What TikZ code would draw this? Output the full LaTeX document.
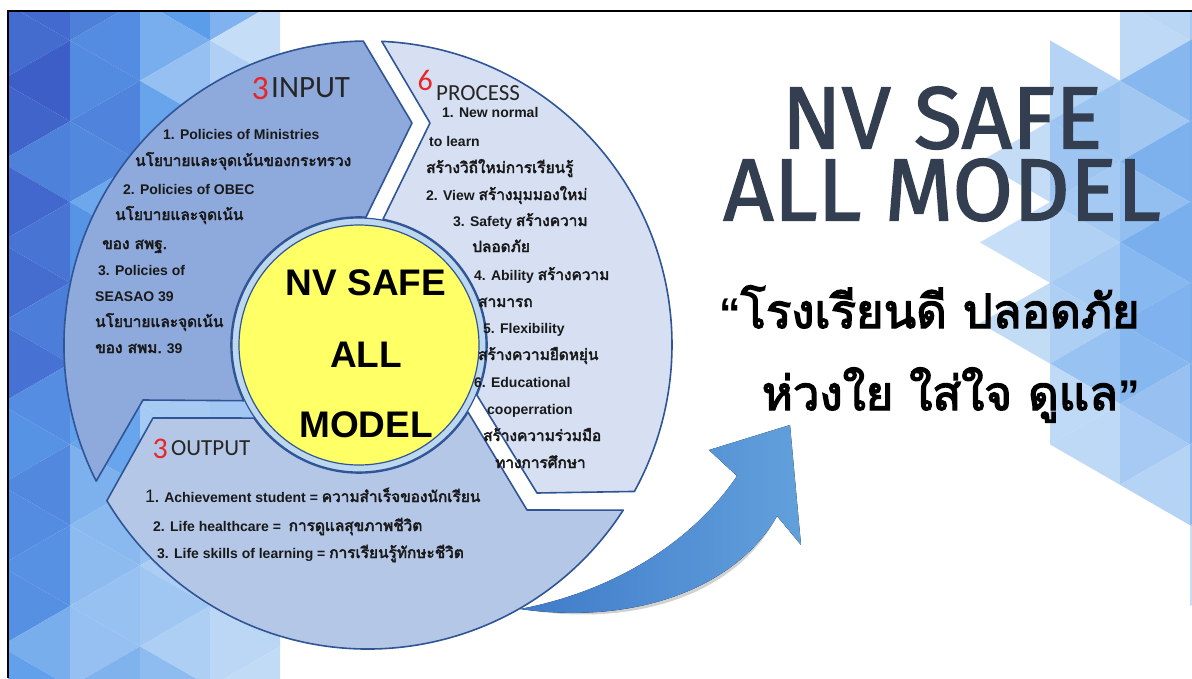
\documentclass[tikz,border=0pt]{standalone}
\usepackage{fontspec}
\setmainfont{Liberation Sans}
\newfontfamily\thaifont[Script=Thai,Scale=1.1,BoldFont=Loma,BoldFeatures={FakeBold=3}]{Loma}
\newfontfamily\headfont{Carlito}
\newfontfamily\titlefont[FakeBold=1.6]{Fira Sans}
\usetikzlibrary{calc}

\definecolor{segline}{HTML}{2F5597}
\definecolor{inputfill}{HTML}{8EA9DB}
\definecolor{processfill}{HTML}{D6E0F2}
\definecolor{outputfill}{HTML}{B4C7E7}
\definecolor{ringfill}{HTML}{BDD7EE}
\definecolor{coreyellow}{HTML}{FFFF66}
\definecolor{numred}{HTML}{E8262A}
\definecolor{titlegray}{HTML}{333F50}
\definecolor{bgdeep}{HTML}{3A58C4}
\definecolor{bgmid}{HTML}{5C9DEA}
\definecolor{bgpale}{HTML}{D2E5F8}
\definecolor{arrowdark}{HTML}{3F7BC9}
\definecolor{arrowlight}{HTML}{62A0DC}

\newcommand\thtxt[1]{{\thaifont #1}}

% one triangle of the background, coloured after where it lies
\newcommand\bgtri[6]{%
  \pgfmathsetmacro\cx{(#1+#3+#5)/3}%
  \pgfmathsetmacro\cy{(#2+#4+#6)/3}%
  \pgfmathsetmacro\dl{300-0.05*\cy-\cx}%
  \pgfmathsetmacro\dr{\cx-1010-(0.045*(\cy-250))^2}%
  \ifdim\dl pt>0pt
    \pgfmathsetmacro\p{max(5,min(98,\dl/3.2*(1.15-0.5*\cy/678)+24*rnd-12))}%
    \ifdim\p pt>50pt
      \pgfmathsetmacro\q{2*\p-100}%
      \fill[bgdeep!\q!bgmid] (#1,#2)--(#3,#4)--(#5,#6)--cycle;
    \else
      \pgfmathsetmacro\q{2*\p}%
      \fill[bgmid!\q!bgpale] (#1,#2)--(#3,#4)--(#5,#6)--cycle;
    \fi
  \fi
  \ifdim\dr pt>0pt
    \pgfmathsetmacro\p{max(5,min(75,8+\dr*0.45+30*rnd-15))}%
    \fill[bgmid!\p!bgpale] (#1,#2)--(#3,#4)--(#5,#6)--cycle;
  \fi
}

\tikzset{
  segment/.style={draw=segline, line width=1.6pt, line join=round},
  segtext/.style={anchor=base west, inner sep=0pt, text=black!90,
    font=\bfseries\fontsize{14}{14}\selectfont},
  coretext/.style={anchor=base, inner sep=0pt, font=\bfseries\fontsize{37}{37}\selectfont},
  headnum/.style={anchor=base east, inner sep=0pt, text=numred},
  headword/.style={anchor=base west, inner sep=0pt, text=black!85},
  titletext/.style={inner sep=0pt, text=titlegray, align=center,
    font=\titlefont\fontsize{88}{72}\selectfont},
  mottotext/.style={anchor=base east, inner sep=0pt,
    font=\thaifont\bfseries\fontsize{43}{43}\selectfont},
  arrowbody/.style={left color=arrowdark, right color=arrowlight},
}

\begin{document}
\begin{tikzpicture}[x=1pt,y=-1pt]
\useasboundingbox (0,0) rectangle (1192,678);
\fill[white] (0,0) rectangle (1192,678);

% background triangles
\begin{scope}
\clip (8,11) rectangle (1192,678);
\pgfmathsetseed{42}
\foreach \i in {0,...,17}{
  \foreach \j in {-1,...,8}{
    \pgfmathsetmacro\xa{\i*70}
    \pgfmathsetmacro\xb{\i*70+70}
    \pgfmathsetmacro\ya{\j*80.8+mod(\i,2)*40.4}
    \pgfmathsetmacro\ym{\ya+40.4}
    \pgfmathsetmacro\yb{\ya+80.8}
    \pgfmathsetmacro\yc{\ya+121.2}
    \bgtri{\xa}{\ya}{\xb}{\ym}{\xa}{\yb}
    \bgtri{\xb}{\ym}{\xa}{\yb}{\xb}{\yc}
  }
}
\end{scope}

\coordinate (O) at (368,345); \coordinate (C) at (359,345);

% the three segments
\draw[segment, fill=inputfill] ($(O)+(153.4:304)$) arc[start angle=153.4, end angle=269.1, radius=304]
  -- (412,123) -- ($(C)+(273.1:128)$) arc[start angle=273.1, end angle=154.2, radius=128] -- (143,400) -- cycle;
\draw[segment, fill=processfill] ($(O)+(272.6:304)$) arc[start angle=272.6, end angle=388.8, radius=304]
  -- (537,493) -- ($(C)+(23:128)$) arc[start angle=23, end angle=-79.2, radius=128] -- (430,123) -- cycle;
\draw[segment, fill=outputfill] ($(O)+(32.9:304)$) arc[start angle=32.9, end angle=149.2, radius=304]
  -- (153,418) -- ($(C)+(145.2:128)$) arc[start angle=145.2, end angle=31.6, radius=128] -- (527,510) -- cycle;

% centre
\node[circle, draw=segline, line width=1.2pt, fill=ringfill, minimum size=254pt, inner sep=0pt] (ring) at (C) {};
\node[circle, draw=segline, line width=1.2pt, fill=coreyellow, minimum size=240pt, inner sep=0pt] (core) at (C) {};
\foreach \txt/\y [count=\i] in {NV SAFE/295, ALL/367, MODEL/437}
  \node[coretext] (core\i) at (366,\y) {\txt};

% headings
\node[headnum, font=\headfont\fontsize{34}{34}\selectfont] (in-num) at (269,99) {3};
\node[headword, font=\headfont\fontsize{31}{31}\selectfont] (in-head) at (271,97) {INPUT};
\node[headnum, font=\headfont\fontsize{30}{30}\selectfont] (pr-num) at (433,90) {6};
\node[headword, font=\headfont\fontsize{23}{23}\selectfont] (pr-head) at (436,100) {PROCESS};
\node[headnum, font=\headfont\fontsize{30}{30}\selectfont] (out-num) at (168,458) {3};
\node[headword, font=\headfont\fontsize{23}{23}\selectfont] (out-head) at (171,455) {OUTPUT};

% input items
\foreach \x/\y/\txt [count=\i] in {
  163/139/{1. Policies of Ministries},
  135/166/{\thtxt{นโยบายและจุดเน้นของกระทรวง}},
  123/194/{2. Policies of OBEC},
  115/220/{\thtxt{นโยบายและจุดเน้น}},
  102/249/{\thtxt{ของ สพฐ.}},
  98/275/{3. Policies of},
  95/301/{SEASAO 39},
  95/327/{\thtxt{นโยบายและจุดเน้น}},
  95/353/{\thtxt{ของ สพม.} 39}}
  \node[segtext] (in\i) at (\x,\y) {\txt};

% process items
\foreach \x/\y/\txt [count=\i] in {
  442/117/{1. New normal},
  429/146/{to learn},
  426/173/{\thtxt{สร้างวิถีใหม่การเรียนรู้}},
  426/200/{2. View \thtxt{สร้างมุมมองใหม่}},
  453/226/{3. Safety \thtxt{สร้างความ}},
  472/252/{\thtxt{ปลอดภัย}},
  474/280/{4. Ability \thtxt{สร้างความ}},
  478/307/{\thtxt{สามารถ}},
  483/333/{5. Flexibility},
  478/360/{\thtxt{สร้างความยืดหยุ่น}},
  474/387/{6. Educational},
  487/414/{cooperration},
  483/441/{\thtxt{สร้างความร่วมมือ}},
  495/468/{\thtxt{ทางการศึกษา}}}
  \node[segtext] (pr\i) at (\x,\y) {\txt};

% output items
\foreach \x/\y/\txt [count=\i] in {
  145/502/{{\mdseries\fontsize{18}{18}\selectfont 1}. Achievement student = \thtxt{ความสำเร็จของนักเรียน}},
  153/531/{2. Life healthcare = \ \thtxt{การดูแลสุขภาพชีวิต}},
  157/558/{3. Life skills of learning = \thtxt{การเรียนรู้ทักษะชีวิต}}}
  \node[segtext] (out\i) at (\x,\y) {\txt};

% curved arrow
\coordinate (tail) at (520,609); \coordinate (tip) at (790,425);
\coordinate (barbA) at (709,450); \coordinate (barbB) at (801,545);
\coordinate (neckA) at (737,476); \coordinate (neckB) at (777,516);
\fill[black, opacity=0.18, xshift=3pt, yshift=-4pt] (tail) .. controls (610,592) and (690,545) .. (neckA) -- (barbA) -- (tip)
  -- (barbB) -- (neckB) .. controls (738,585) and (640,626) .. (tail) -- cycle;
\fill[arrowbody] (tail) .. controls (610,592) and (690,545) .. (neckA) -- (barbA) -- (tip)
  -- (barbB) -- (neckB) .. controls (738,585) and (640,626) .. (tail) -- cycle;

% title and motto
\node[titletext] (title) at (942,154) {NV SAFE\\ALL MODEL};
\node[mottotext] (motto1) at (1140,328) {{\rmfamily “}โรงเรียนดี ปลอดภัย};
\node[mottotext] (motto2) at (1140,410) {ห่วงใย ใส่ใจ ดูแล{\rmfamily ”}};

% frame
\draw[line width=2pt] (8,678) -- (8,11) -- (1192,11);
\end{tikzpicture}
\end{document}
